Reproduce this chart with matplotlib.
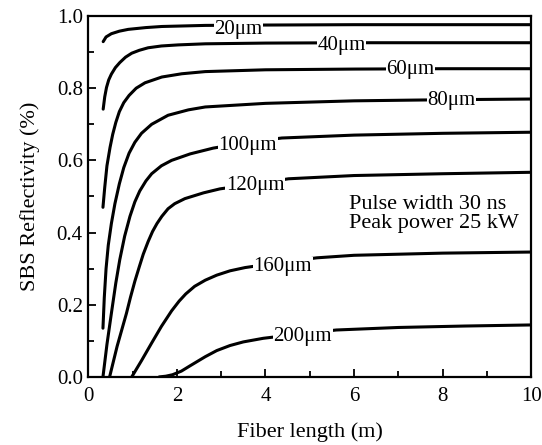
import matplotlib
matplotlib.use("Agg")
import matplotlib.pyplot as plt
from matplotlib.ticker import MultipleLocator, FormatStrFormatter

plt.rcParams['font.family'] = ['Liberation Serif', 'DejaVu Serif']

# curves: (fiber length m, reflectivity)
x_20 = [0.335, 0.40, 0.52, 0.70, 0.90, 1.3, 1.66, 2.64, 4.0, 6.0, 8.0, 10.0]
y_20 = [0.929, 0.942, 0.951, 0.958, 0.963, 0.968, 0.971, 0.974, 0.975, 0.976, 0.976, 0.976]

x_40 = [0.335, 0.37, 0.41, 0.46, 0.52, 0.61, 0.71, 0.84, 0.98, 1.15, 1.35, 1.65, 2.03, 2.64, 4.0, 6.0, 8.0, 10.0]
y_40 = [0.742, 0.776, 0.802, 0.823, 0.839, 0.857, 0.871, 0.886, 0.897, 0.905, 0.912, 0.917, 0.920, 0.923, 0.925, 0.926, 0.926, 0.926]

x_60 = [0.33, 0.37, 0.42, 0.49, 0.55, 0.62, 0.70, 0.80, 0.92, 1.08, 1.28, 1.66, 2.11, 2.64, 4.0, 6.0, 8.0, 10.0]
y_60 = [0.47, 0.525, 0.585, 0.636, 0.672, 0.705, 0.735, 0.760, 0.780, 0.800, 0.815, 0.831, 0.840, 0.846, 0.851, 0.853, 0.854, 0.854]

x_80 = [0.33, 0.36, 0.40, 0.45, 0.52, 0.60, 0.70, 0.80, 0.92, 1.05, 1.2, 1.43, 1.8, 2.26, 2.64, 4.0, 6.0, 8.0, 10.0]
y_80 = [0.135, 0.22, 0.30, 0.365, 0.425, 0.48, 0.535, 0.58, 0.62, 0.65, 0.675, 0.70, 0.725, 0.740, 0.748, 0.758, 0.765, 0.768, 0.770]

x_100 = [0.33, 0.42, 0.52, 0.62, 0.71, 0.82, 0.94, 1.05, 1.16, 1.3, 1.43, 1.65, 1.88, 2.3, 2.82, 3.6, 4.37, 6.0, 8.0, 10.0]
y_100 = [0.0, 0.09, 0.176, 0.26, 0.325, 0.39, 0.445, 0.485, 0.515, 0.543, 0.563, 0.585, 0.600, 0.618, 0.634, 0.650, 0.662, 0.670, 0.675, 0.678]

x_120 = [0.48, 0.65, 0.86, 0.95, 1.05, 1.15, 1.24, 1.35, 1.45, 1.55, 1.66, 1.8, 1.95, 2.18, 2.6, 2.97, 3.77, 4.52, 6.0, 8.0, 10.0]
y_120 = [0.0, 0.085, 0.176, 0.22, 0.265, 0.305, 0.34, 0.375, 0.403, 0.425, 0.445, 0.466, 0.480, 0.494, 0.510, 0.521, 0.535, 0.549, 0.558, 0.563, 0.567]

x_160 = [0.98, 1.2, 1.43, 1.65, 1.88, 2.05, 2.2, 2.4, 2.64, 2.9, 3.2, 3.54, 4.39, 5.16, 6.0, 8.0, 10.0]
y_160 = [0.0, 0.045, 0.094, 0.14, 0.183, 0.210, 0.230, 0.251, 0.268, 0.282, 0.294, 0.303, 0.318, 0.330, 0.337, 0.343, 0.346]

x_200 = [1.6, 1.75, 1.9, 2.1, 2.3, 2.64, 2.9, 3.2, 3.5, 3.95, 4.84, 5.6, 7.0, 8.5, 10.0]
y_200 = [0.0, 0.002, 0.006, 0.016, 0.031, 0.056, 0.073, 0.087, 0.097, 0.107, 0.120, 0.130, 0.137, 0.141, 0.144]

curves = [(x_20, y_20), (x_40, y_40), (x_60, y_60), (x_80, y_80),
          (x_100, y_100), (x_120, y_120), (x_160, y_160), (x_200, y_200)]

# curve labels and where they sit on the line
labels = ["20\u03bcm", "40\u03bcm", "60\u03bcm", "80\u03bcm",
          "100\u03bcm", "120\u03bcm", "160\u03bcm", "200\u03bcm"]
label_x = [3.39, 5.72, 7.27, 8.2, 3.6, 3.77, 4.39, 4.84]
label_y = [0.964, 0.917, 0.853, 0.765, 0.64, 0.53, 0.305, 0.111]

fig = plt.figure(figsize=(5.42, 4.45), dpi=100)
ax = fig.add_axes([0.163, 0.153, 0.817, 0.811])

for xs, ys in curves:
    ax.plot(xs, ys, color='black', lw=2.2, solid_capstyle='round',
            solid_joinstyle='round', zorder=2)

for txt, lx, ly in zip(labels, label_x, label_y):
    ax.text(lx, ly, txt, ha='center', va='center', fontsize=15, zorder=3,
            bbox=dict(facecolor='white', edgecolor='none', pad=0.5))

ax.text(5.88, 0.505, "Pulse width 30 ns\nPeak power 25 kW", fontsize=16,
        ha='left', va='top', linespacing=1.0)

ax.set_xlim(0, 10)
ax.set_ylim(0, 1.0)
ax.xaxis.set_major_locator(MultipleLocator(2))
ax.xaxis.set_minor_locator(MultipleLocator(1))
ax.yaxis.set_major_locator(MultipleLocator(0.2))
ax.yaxis.set_minor_locator(MultipleLocator(0.1))
ax.yaxis.set_major_formatter(FormatStrFormatter('%.1f'))
ax.tick_params(which='both', direction='in', top=False, right=False,
               labelsize=15, width=1.3)
ax.tick_params(which='major', length=6)
ax.tick_params(axis='x', which='major', pad=7)
ax.tick_params(axis='y', which='major', pad=4)
ax.tick_params(which='minor', length=4)
for s in ax.spines.values():
    s.set_linewidth(1.6)

ax.set_xlabel("Fiber length (m)", fontsize=16, labelpad=12)
ax.set_ylabel("SBS Reflectivity (%)", fontsize=16, labelpad=12)

fig.savefig("out.png", dpi=100)
